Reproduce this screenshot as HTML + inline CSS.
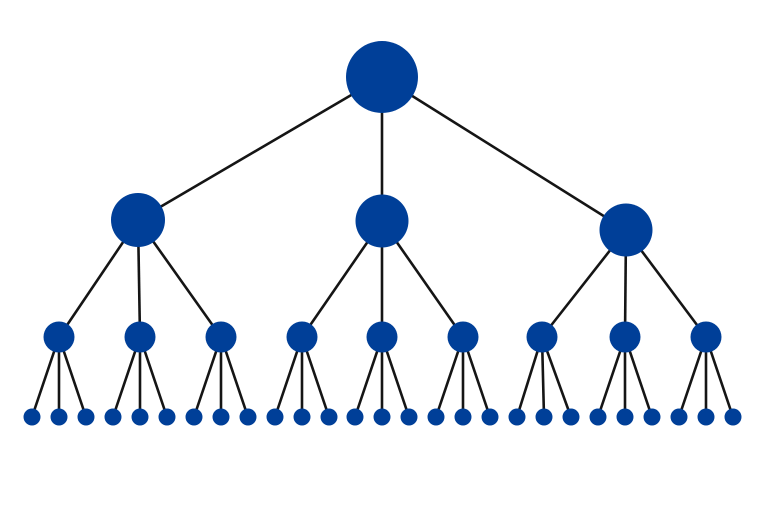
<!DOCTYPE html>
<html><head><style>html,body{margin:0;padding:0;background:#fff;}svg{display:block}</style></head>
<body>
<svg width="768" height="512" viewBox="0 0 768 512" xmlns="http://www.w3.org/2000/svg">
<g stroke="#151515" stroke-width="2.6" fill="none">
<line x1="382" y1="77" x2="138" y2="220"/>
<line x1="382" y1="77" x2="382" y2="221"/>
<line x1="382" y1="77" x2="626" y2="230"/>
<line x1="138" y1="220" x2="59" y2="337"/><line x1="138" y1="220" x2="140" y2="337"/><line x1="138" y1="220" x2="221" y2="337"/>
<line x1="382" y1="221" x2="302" y2="337"/><line x1="382" y1="221" x2="382" y2="337"/><line x1="382" y1="221" x2="463" y2="337"/>
<line x1="626" y1="230" x2="542" y2="337"/><line x1="626" y1="230" x2="625" y2="337"/><line x1="626" y1="230" x2="706" y2="337"/>
<g id="l">
<line x1="59" y1="337" x2="32" y2="417"/><line x1="59" y1="337" x2="59" y2="417"/><line x1="59" y1="337" x2="86" y2="417"/>
<line x1="140" y1="337" x2="113" y2="417"/><line x1="140" y1="337" x2="140" y2="417"/><line x1="140" y1="337" x2="167" y2="417"/>
<line x1="221" y1="337" x2="194" y2="417"/><line x1="221" y1="337" x2="221" y2="417"/><line x1="221" y1="337" x2="248" y2="417"/>
<line x1="302" y1="337" x2="275" y2="417"/><line x1="302" y1="337" x2="302" y2="417"/><line x1="302" y1="337" x2="329" y2="417"/>
<line x1="382" y1="337" x2="355" y2="417"/><line x1="382" y1="337" x2="382" y2="417"/><line x1="382" y1="337" x2="409" y2="417"/>
<line x1="463" y1="337" x2="436" y2="417"/><line x1="463" y1="337" x2="463" y2="417"/><line x1="463" y1="337" x2="490" y2="417"/>
<line x1="542" y1="337" x2="517" y2="417"/><line x1="542" y1="337" x2="544" y2="417"/><line x1="542" y1="337" x2="571" y2="417"/>
<line x1="625" y1="337" x2="598" y2="417"/><line x1="625" y1="337" x2="625" y2="417"/><line x1="625" y1="337" x2="652" y2="417"/>
<line x1="706" y1="337" x2="679" y2="417"/><line x1="706" y1="337" x2="706" y2="417"/><line x1="706" y1="337" x2="733" y2="417"/>
</g>
</g>
<g fill="#003f98">
<circle cx="382" cy="77" r="36"/>
<circle cx="138" cy="220" r="27"/><circle cx="382" cy="221" r="26.5"/><circle cx="626" cy="230" r="26.5"/>
<circle cx="59" cy="337" r="15.5"/><circle cx="140" cy="337" r="15.5"/><circle cx="221" cy="337" r="15.5"/>
<circle cx="302" cy="337" r="15.5"/><circle cx="382" cy="337" r="15.5"/><circle cx="463" cy="337" r="15.5"/>
<circle cx="542" cy="337" r="15.5"/><circle cx="625" cy="337" r="15.5"/><circle cx="706" cy="337" r="15.5"/>
<circle cx="32" cy="417" r="8.5"/><circle cx="59" cy="417" r="8.5"/><circle cx="86" cy="417" r="8.5"/>
<circle cx="113" cy="417" r="8.5"/><circle cx="140" cy="417" r="8.5"/><circle cx="167" cy="417" r="8.5"/>
<circle cx="194" cy="417" r="8.5"/><circle cx="221" cy="417" r="8.5"/><circle cx="248" cy="417" r="8.5"/>
<circle cx="275" cy="417" r="8.5"/><circle cx="302" cy="417" r="8.5"/><circle cx="329" cy="417" r="8.5"/>
<circle cx="355" cy="417" r="8.5"/><circle cx="382" cy="417" r="8.5"/><circle cx="409" cy="417" r="8.5"/>
<circle cx="436" cy="417" r="8.5"/><circle cx="463" cy="417" r="8.5"/><circle cx="490" cy="417" r="8.5"/>
<circle cx="517" cy="417" r="8.5"/><circle cx="544" cy="417" r="8.5"/><circle cx="571" cy="417" r="8.5"/>
<circle cx="598" cy="417" r="8.5"/><circle cx="625" cy="417" r="8.5"/><circle cx="652" cy="417" r="8.5"/>
<circle cx="679" cy="417" r="8.5"/><circle cx="706" cy="417" r="8.5"/><circle cx="733" cy="417" r="8.5"/>
</g>
</svg>
</body></html>
